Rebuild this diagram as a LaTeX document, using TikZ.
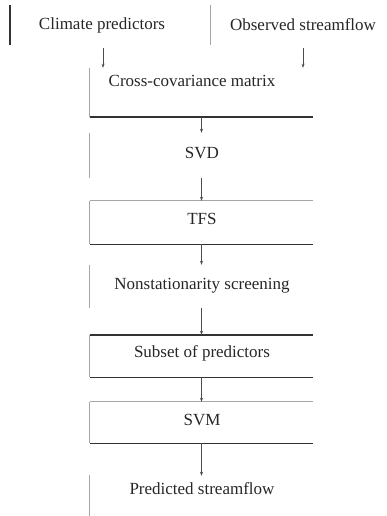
\documentclass[tikz,border=0pt]{standalone}
\usepackage{fontspec}
\setmainfont{Liberation Serif}
\usetikzlibrary{arrows.meta}
\begin{document}
\begin{tikzpicture}[x=1pt,y=1pt,
  box/.style={draw=none,rectangle,minimum width=223pt,inner sep=0pt},
  txt/.style={font=\fontsize{17}{19}\selectfont,inner sep=0pt,text=black!85},
  faint/.style={draw=black!35,line width=0.9pt},
  strong/.style={draw=black!80,line width=1.4pt},
  arr/.style={draw=black!70,line width=0.9pt,-{Stealth[length=4pt,width=3pt]}}]
\useasboundingbox (0,0) rectangle (387,-516);
% top boxes
\node[box,minimum width=200pt,minimum height=40pt] (cp) at (110,-25) {};
\node[box,minimum width=186pt,minimum height=40pt] (os) at (303,-25) {};
\node[txt] (cpt) at (102,-25) {Climate predictors};
\node[txt] (ost) at (303,-25) {Observed streamflow};
\draw[strong] (cp.north west) -- (cp.south west);
\draw[faint] (cp.north east) -- (cp.south east);
% main column
\node[box,minimum height=49pt] (cc) at (201.5,-92.5) {};
\node[box,minimum height=45pt] (svd) at (201.5,-155.5) {};
\node[box,minimum height=43pt] (tfs) at (201.5,-222.5) {};
\node[box,minimum height=43pt] (ns) at (201.5,-286.5) {};
\node[box,minimum height=42pt] (sp) at (201.5,-356) {};
\node[box,minimum height=41pt] (svm) at (201.5,-422.5) {};
\node[box,minimum height=45pt] (ps) at (201.5,-495.5) {};
\node[txt] (cct) at (192,-81) {Cross-covariance matrix};
\node[txt] (svdt) at (202,-153) {SVD};
\node[txt] (tfst) at (202,-219) {TFS};
\node[txt] (nst) at (202,-286) {Nonstationarity screening};
\node[txt] (spt) at (202,-353) {Subset of predictors};
\node[txt] (svmt) at (202,-420) {SVM};
\node[txt] (pst) at (202,-489) {Predicted streamflow};
% box edges
\draw[faint] (cc.north west) -- (cc.south west);
\draw[strong] (cc.south west) -- (cc.south east);
\draw[faint] (svd.north west) -- (svd.south west);
\draw[faint] (tfs.north west) -- (tfs.north east);
\draw[faint] (tfs.north west) -- (tfs.south west);
\draw[strong] (tfs.south west) -- (tfs.south east);
\draw[faint] (ns.north west) -- (ns.south west);
\draw[strong] (sp.north west) -- (sp.north east);
\draw[faint] (sp.north west) -- (sp.south west);
\draw[strong] (sp.south west) -- (sp.south east);
\draw[faint] (svm.north west) -- (svm.north east);
\draw[faint] (svm.north west) -- (svm.south west);
\draw[strong] (svm.south west) -- (svm.south east);
\draw[faint] ([yshift=-2pt]ps.north west) -- (ps.south west);
% connectors
\draw[arr] (cp.south -| cpt) ++(1,-3) coordinate (a1) -- (a1 |- cc.north);
\draw[arr] (os.south) ++(0,-3) coordinate (a2) -- (a2 |- cc.north);
\draw[arr] (cc.south) -- (svd.north);
\draw[arr] (svd.south) -- (tfs.north);
\draw[arr] (tfs.south) -- (ns.north);
\draw[arr] (ns.south) -- (sp.north);
\draw[arr] (sp.south) -- (svm.north);
\draw[arr] (svm.south) -- ([yshift=-3pt]ps.north);
\end{tikzpicture}
\end{document}
